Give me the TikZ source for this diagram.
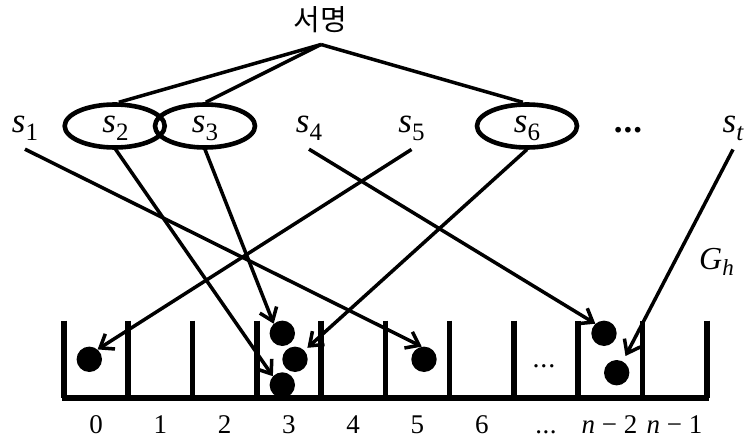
\documentclass[tikz,border=0pt]{standalone}
\usepackage{fontspec}
\setmainfont{Liberation Serif}
\newfontfamily\krfont{Noto Sans CJK KR}
\usetikzlibrary{arrows.meta,shapes.geometric}

% italic symbol with a lowered upright index
\newcommand{\slab}[2]{{\fontsize{35}{35}\selectfont\itshape #1}\raisebox{-8pt}{\fontsize{25}{25}\selectfont #2}}

\begin{document}
\begin{tikzpicture}[x=1pt,y=-1pt,
  lbl/.style={anchor=base,inner xsep=0pt,inner ysep=8pt},
  grp/.style={draw,ellipse,line width=4.6pt,minimum width=100pt,minimum height=43pt,inner sep=0pt},
  ball/.style={circle,fill=black,minimum size=25.4pt,inner sep=0pt},
  link/.style={line width=3.5pt},
  hit/.style={line width=3.5pt,-{Straight Barb[length=12pt,width=18pt,line width=3.5pt]}},
  bar/.style={line width=5.6pt},
  binlbl/.style={anchor=base,font=\fontsize{27}{27}\selectfont}]
\useasboundingbox (0,0) rectangle (744,441);

% title and the point where the group links meet
\node[inner sep=0pt,font=\krfont\fontsize{29}{29}\selectfont] (title) at (320,20) {서명};
\coordinate (apex) at (321,44.5);

% highlighted groups
\node[grp] (e2) at (114.7,126) {};
\node[grp] (e3) at (205,126) {};
\node[grp] (e6) at (527,126) {};

\draw[link] (apex) -- (e2.80);
\draw[link] (apex) -- (e3.88);
\draw[link] (apex) -- (e6.100);

% elements
\node[lbl] (s1) at (25,133) {\slab{s}{1}};
\node[lbl] (s2) at (115.5,133) {\slab{s}{2}};
\node[lbl] (s3) at (205,133) {\slab{s}{3}};
\node[lbl] (s4) at (309,133) {\slab{s}{4}};
\node[lbl] (s5) at (411.5,133) {\slab{s}{5}};
\node[lbl] (s6) at (527,133) {\slab{s}{6}};
\node[lbl] (sd) at (628,133) {\fontsize{35}{35}\selectfont\bfseries .\kern1pt.\kern1pt.};
\node[lbl] (st) at (733,133) {\slab{s}{\itshape t}};

% hash label
\node[anchor=base west,inner sep=0pt] (gh) at (699,269)
  {{\fontsize{32}{32}\selectfont\itshape G}\raisebox{-6pt}{\fontsize{23}{23}\selectfont\itshape h}};

% bins
\foreach \k in {0,...,10}
  \draw[bar] (64+64.27*\k,320.5) -- (64+64.27*\k,398);
\draw[bar] (61.5,398) -- (709.2,398);

% bin indices
\foreach \k in {0,1,2,3,4,5,6}
  \node[binlbl] (i\k) at (64+64.27*\k+32.13,433) {\k};
\node[binlbl] (i7) at (546,433) {.\kern0.5pt.\kern0.5pt.};
\node[binlbl] (i8) at (609.5,433) {\textit{n} − 2};
\node[binlbl] (i9) at (674.6,433) {\textit{n} − 1};
\node[anchor=base,inner sep=0pt,font=\fontsize{28}{28}\selectfont] (bd) at (544,367) {.\kern1pt.\kern1pt.};

% stored items
\node[ball] (b0) at (89.3,359.3) {};
\node[ball] (b3a) at (282.3,333.3) {};
\node[ball] (b3b) at (295,359.3) {};
\node[ball] (b3c) at (282.3,385) {};
\node[ball] (b5) at (424,359.3) {};
\node[ball] (bn2a) at (604,333.3) {};
\node[ball] (bn2b) at (616.7,372.7) {};

% hashing arrows
\draw[hit] (s1.south) -- (b5.100);
\draw[hit] (s2.south) -- (b3c.137);
\draw[hit] (s3.south) -- (b3a.132);
\draw[hit] (s4.south) -- (bn2a.132);
\draw[hit] (s5.south) -- (b0.50);
\draw[hit,shorten >=4pt] (s6.south) -- (b3b.43);
\draw[hit,shorten >=6pt] (st.south) -- (bn2b.62);
\end{tikzpicture}
\end{document}
